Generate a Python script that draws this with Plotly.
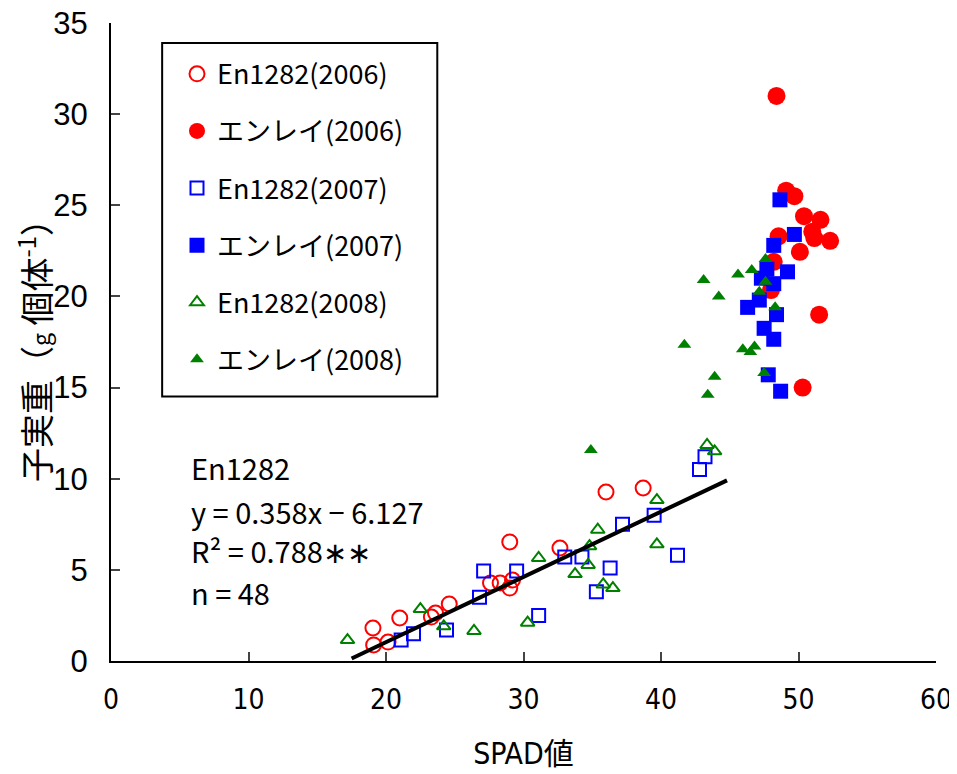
import plotly.graph_objects as go

# ---- data ----
en1282_2006_x = [19.05, 19.1, 20.15, 21.0, 23.3, 23.6, 24.6, 27.6, 28.3, 29.0, 29.2, 29.0, 32.65, 36.0, 38.7]
en1282_2006_y = [1.81, 0.88, 1.04, 2.36, 2.41, 2.63, 3.13, 4.28, 4.28, 4.0, 4.44, 6.53, 6.2, 9.27, 9.49]

enrei_2006_x = [48.4, 49.1, 49.7, 50.4, 51.6, 51.0, 51.15, 52.3, 48.55, 50.1, 48.2, 48.0, 51.5, 50.3]
enrei_2006_y = [31.0, 25.8, 25.5, 24.4, 24.2, 23.55, 23.2, 23.05, 23.3, 22.45, 21.9, 20.35, 19.0, 15.0]

en1282_2007_x = [21.1, 22.0, 24.4, 26.8, 27.1, 29.5, 31.1, 33.0, 34.25, 37.2, 36.3, 35.3, 39.5, 41.2, 42.8, 43.2]
en1282_2007_y = [1.15, 1.5, 1.7, 3.5, 4.94, 4.94, 2.5, 5.7, 5.7, 7.5, 5.1, 3.8, 8.0, 5.8, 10.5, 11.2]

enrei_2007_x = [48.65, 49.7, 48.2, 47.7, 49.2, 47.3, 48.2, 47.15, 46.3, 48.4, 47.5, 48.2, 47.8, 48.7]
enrei_2007_y = [25.3, 23.4, 22.8, 21.5, 21.35, 21.0, 20.7, 19.8, 19.4, 19.0, 18.25, 17.65, 15.7, 14.8]

en1282_2008_x = [17.2, 22.5, 24.2, 26.4, 30.3, 31.1, 33.75, 34.8, 34.7, 35.4, 35.8, 36.5, 39.7, 39.7, 43.35, 43.9]
en1282_2008_y = [1.15, 2.85, 1.9, 1.65, 2.1, 5.65, 4.77, 6.3, 5.27, 7.2, 4.2, 4.0, 8.83, 6.4, 11.85, 11.5]

enrei_2008_x = [43.1, 45.6, 46.6, 47.6, 44.2, 47.6, 47.15, 48.3, 41.7, 45.95, 46.5, 46.8, 47.5, 43.9, 43.4, 34.9]
enrei_2008_y = [20.9, 21.2, 21.45, 22.05, 20.0, 20.8, 20.25, 19.4, 17.35, 17.1, 16.95, 17.25, 15.8, 15.6, 14.6, 11.57]

fit_slope = 0.358
fit_intercept = -6.127
fit_x = [17.5, 44.8]
fit_y = [fit_slope * v + fit_intercept for v in fit_x]

x_ticks = [0, 10, 20, 30, 40, 50, 60]
y_ticks = [0, 5, 10, 15, 20, 25, 30, 35]

annotation_lines = ["En1282", "y = 0.358x − 6.127", "R² = 0.788∗∗", "n = 48"]

JP = "Noto Sans CJK JP, sans-serif"
NARROW = "Liberation Sans Narrow, DejaVu Sans Condensed, Noto Sans CJK JP, sans-serif"

fig = go.Figure()

series = [
    ("En1282(2006)", en1282_2006_x, en1282_2006_y, "circle-open", "red", 15),
    ("エンレイ(2006)", enrei_2006_x, enrei_2006_y, "circle", "red", 18),
    ("En1282(2007)", en1282_2007_x, en1282_2007_y, "square-open", "blue", 13),
    ("エンレイ(2007)", enrei_2007_x, enrei_2007_y, "square", "blue", 15),
    ("En1282(2008)", en1282_2008_x, en1282_2008_y, "triangle-up-open", "green", 12),
    ("エンレイ(2008)", enrei_2008_x, enrei_2008_y, "triangle-up", "green", 12),
]
for i, (name, xs, ys, sym, col, sz) in enumerate(series):
    fig.add_trace(go.Scatter(
        x=xs, y=ys, mode="markers", name=name, legendgroup=f"g{i}",
        marker=dict(symbol=sym, color=col, size=sz,
                    line=dict(color=col, width=2 if "open" in sym else 0)),
    ))

fig.add_trace(go.Scatter(x=fit_x, y=fit_y, mode="lines", showlegend=False,
                         line=dict(color="black", width=4)))

ann_y = [0.304, 0.235, 0.174, 0.108]
for t, yy in zip(annotation_lines, ann_y):
    fig.add_annotation(x=0.095, y=yy, xref="paper", yref="paper",
                       text=t, showarrow=False, xanchor="left", yanchor="middle",
                       font=dict(family=JP, size=29, color="black"))

fig.add_shape(type="rect", xref="paper", yref="paper",
              x0=0.062, x1=0.3955, y0=0.4147, y1=0.9687,
              line=dict(color="black", width=2))

# page body has an 8px offset, so margins are shifted to keep the plot area at 111..936 x 23..661
fig.update_layout(
    width=957, height=774,
    margin=dict(l=103, r=29, t=15, b=121),
    plot_bgcolor="white", paper_bgcolor="white",
    font=dict(family=JP, color="black"),
    legend=dict(x=0.080, y=0.958, xanchor="left", yanchor="top",
                font=dict(family=JP, size=27, color="black"),
                tracegroupgap=19, bgcolor="rgba(0,0,0,0)"),
    xaxis=dict(range=[0, 60], tickvals=x_ticks, ticks="inside", ticklen=9, tickwidth=2,
               showline=True, linecolor="black", linewidth=2, showgrid=False, zeroline=False,
               ticklabelstandoff=12, automargin=False, ticklabeloverflow="allow",
               tickfont=dict(family=NARROW, size=28, color="black"),
               title=dict(text="SPAD値", standoff=28,
                          font=dict(family=NARROW, size=30, color="black"))),
    yaxis=dict(range=[0, 35], tickvals=y_ticks, ticks="inside", ticklen=9, tickwidth=2,
               showline=True, linecolor="black", linewidth=2, showgrid=False, zeroline=False,
               ticklabelstandoff=15, automargin=False, ticklabeloverflow="allow",
               tickfont=dict(family="Liberation Sans, Arial, sans-serif", size=31, color="black"),
               title=dict(text="子実重（<span style='font-size:23px'>g</span> 個体<sup>-1</sup>）", standoff=22,
                          font=dict(family=JP, size=34, color="black"))),
)

fig.write_html("out.html")
